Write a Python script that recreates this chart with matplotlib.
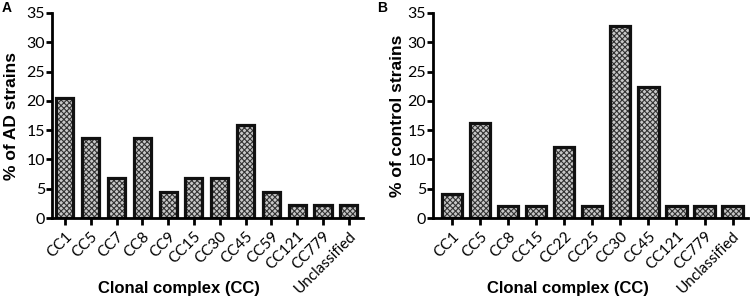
import numpy as np
import matplotlib.pyplot as plt

plt.rcParams['font.family'] = ['Lato', 'DejaVu Sans']
plt.rcParams['hatch.linewidth'] = 0.8

# 数据
cc_a = ['CC1', 'CC5', 'CC7', 'CC8', 'CC9', 'CC15', 'CC30', 'CC45', 'CC59',
        'CC121', 'CC779', 'Unclassified']
pct_a = [20.5, 13.6, 6.8, 13.6, 4.5, 6.8, 6.8, 15.9, 4.5, 2.3, 2.3, 2.3]

cc_b = ['CC1', 'CC5', 'CC8', 'CC15', 'CC22', 'CC25', 'CC30', 'CC45',
        'CC121', 'CC779', 'Unclassified']
pct_b = [4.1, 16.3, 2.0, 2.0, 12.2, 2.0, 32.7, 22.4, 2.0, 2.0, 2.0]

fig = plt.figure(figsize=(7.5, 3.01), dpi=100)
ax_a = fig.add_axes([52/750, 1 - 218/301, (363-52)/750, (218-13)/301])
ax_b = fig.add_axes([433/750, 1 - 218/301, (748-433)/750, (218-13)/301])


def draw(ax, cats, vals, ylabel, width, xpad_l, xpad_r, xl_x, yl_x, ax_l, ax_w):
    x = np.arange(len(cats))
    ax.bar(x, vals, width=width, color='#c8c8c8', edgecolor='#333333',
           hatch='xxxxxx', linewidth=0)
    ax.bar(x, vals, width=width, color='none', edgecolor='#111111',
           linewidth=2.3)
    ax.set_xlim(-xpad_l, len(cats) - 1 + xpad_r)
    ax.set_ylim(0, 35)
    ax.set_yticks(range(0, 36, 5))
    ax.set_xticks(x)
    ax.set_xticklabels(cats, rotation=45, ha='right', rotation_mode='anchor',
                       fontsize=11)
    ax.tick_params(axis='y', labelsize=11.5, width=2, length=4, pad=1)
    ax.tick_params(axis='x', width=2, length=5, pad=3)
    for s in ['top', 'right']:
        ax.spines[s].set_visible(False)
    for s in ['left', 'bottom']:
        ax.spines[s].set_linewidth(2)
    ax.set_ylabel(ylabel, fontsize=12.5, fontweight='bold',
                  family='Liberation Sans', va='center')
    ax.yaxis.set_label_coords((yl_x - ax_l) / ax_w, 0.5)
    fig.text(xl_x/750, 1 - 288/301, 'Clonal complex (CC)', fontsize=12,
             fontweight='bold', family='Liberation Sans',
             ha='center', va='center')


draw(ax_a, cc_a, pct_a, '% of AD strains', 0.66, 0.5, 0.55, 179, 11, 52, 311)
draw(ax_b, cc_b, pct_b, '% of control strains', 0.72, 0.68, 0.55, 568, 397,
     433, 315)

fig.text(2/750, 1 - 8/301, 'A', fontsize=10, fontweight='bold',
         family='Liberation Sans', va='center')
fig.text(377/750, 1 - 8/301, 'B', fontsize=10, fontweight='bold',
         family='Liberation Sans', va='center')

fig.savefig('out.png', dpi=100)
